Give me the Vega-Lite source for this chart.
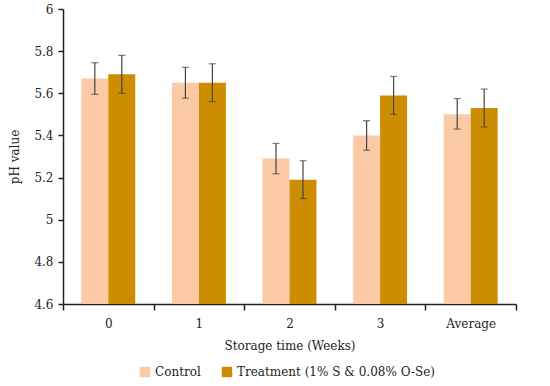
{
  "$schema": "https://vega.github.io/schema/vega-lite/v6.json",
  "width": 453,
  "height": 295,
  "autosize": {"type": "none"},
  "padding": {"left": 63, "top": 9, "right": 34, "bottom": 82},
  "config": {
    "view": {"stroke": null},
    "font": "DejaVu Serif",
    "axis": {"labelFont": "DejaVu Serif", "titleFont": "DejaVu Serif", "labelFontSize": 12, "titleFontSize": 12, "labelColor": "#222", "titleColor": "#222", "titleFontWeight": "normal", "domainColor": "#222", "tickColor": "#222", "domainWidth": 1.5, "tickWidth": 1.5, "grid": false},
    "legend": {"labelFont": "DejaVu Serif", "labelFontSize": 12, "labelColor": "#222", "labelLimit": 0}
  },
  "data": {
    "values": [
      {"week": "0", "group": "Control", "value": 5.67, "lo": 5.595, "hi": 5.745},
      {"week": "0", "group": "Treatment (1% S & 0.08% O-Se)", "value": 5.69, "lo": 5.6, "hi": 5.78},
      {"week": "1", "group": "Control", "value": 5.65, "lo": 5.577, "hi": 5.723},
      {"week": "1", "group": "Treatment (1% S & 0.08% O-Se)", "value": 5.65, "lo": 5.56, "hi": 5.74},
      {"week": "2", "group": "Control", "value": 5.29, "lo": 5.218, "hi": 5.362},
      {"week": "2", "group": "Treatment (1% S & 0.08% O-Se)", "value": 5.19, "lo": 5.1, "hi": 5.28},
      {"week": "3", "group": "Control", "value": 5.4, "lo": 5.33, "hi": 5.47},
      {"week": "3", "group": "Treatment (1% S & 0.08% O-Se)", "value": 5.59, "lo": 5.5, "hi": 5.68},
      {"week": "Average", "group": "Control", "value": 5.5, "lo": 5.43, "hi": 5.575},
      {"week": "Average", "group": "Treatment (1% S & 0.08% O-Se)", "value": 5.53, "lo": 5.44, "hi": 5.62}
    ]
  },
  "encoding": {
    "x": {"field": "week", "type": "nominal", "sort": null, "scale": {"paddingInner": 0, "paddingOuter": 0},
      "axis": {"title": "Storage time (Weeks)", "labelAngle": 0, "tickBand": "extent", "tickSize": 6, "labelPadding": 8, "titlePadding": 11}},
    "xOffset": {"field": "group", "type": "nominal", "scale": {"paddingInner": 0, "paddingOuter": 0.68}}
  },
  "layer": [
    {
      "mark": {"type": "bar", "clip": true},
      "encoding": {
        "y": {"field": "value", "type": "quantitative", "scale": {"domain": [4.6, 6], "zero": false, "nice": false},
          "axis": {"title": "pH value", "values": [4.6, 4.8, 5, 5.2, 5.4, 5.6, 5.8, 6], "format": "~f", "tickSize": 5, "labelPadding": 5, "titlePadding": 12}},
        "color": {"field": "group", "type": "nominal",
          "scale": {"domain": ["Control", "Treatment (1% S & 0.08% O-Se)"], "range": ["#FDCAA8", "#CC8E00"]},
          "legend": {"title": null, "orient": "none", "legendX": 76, "legendY": 357, "direction": "horizontal", "symbolType": "square", "symbolSize": 110, "symbolStrokeWidth": 0, "columnPadding": 20, "labelOffset": 4}}
      }
    },
    {
      "mark": {"type": "rule", "color": "#444", "strokeWidth": 1.2},
      "encoding": {
        "y": {"field": "lo", "type": "quantitative"},
        "y2": {"field": "hi"}
      }
    },
    {
      "mark": {"type": "tick", "color": "#444", "thickness": 1.2, "size": 7},
      "encoding": {"y": {"field": "lo", "type": "quantitative"}}
    },
    {
      "mark": {"type": "tick", "color": "#444", "thickness": 1.2, "size": 7},
      "encoding": {"y": {"field": "hi", "type": "quantitative"}}
    }
  ]
}
